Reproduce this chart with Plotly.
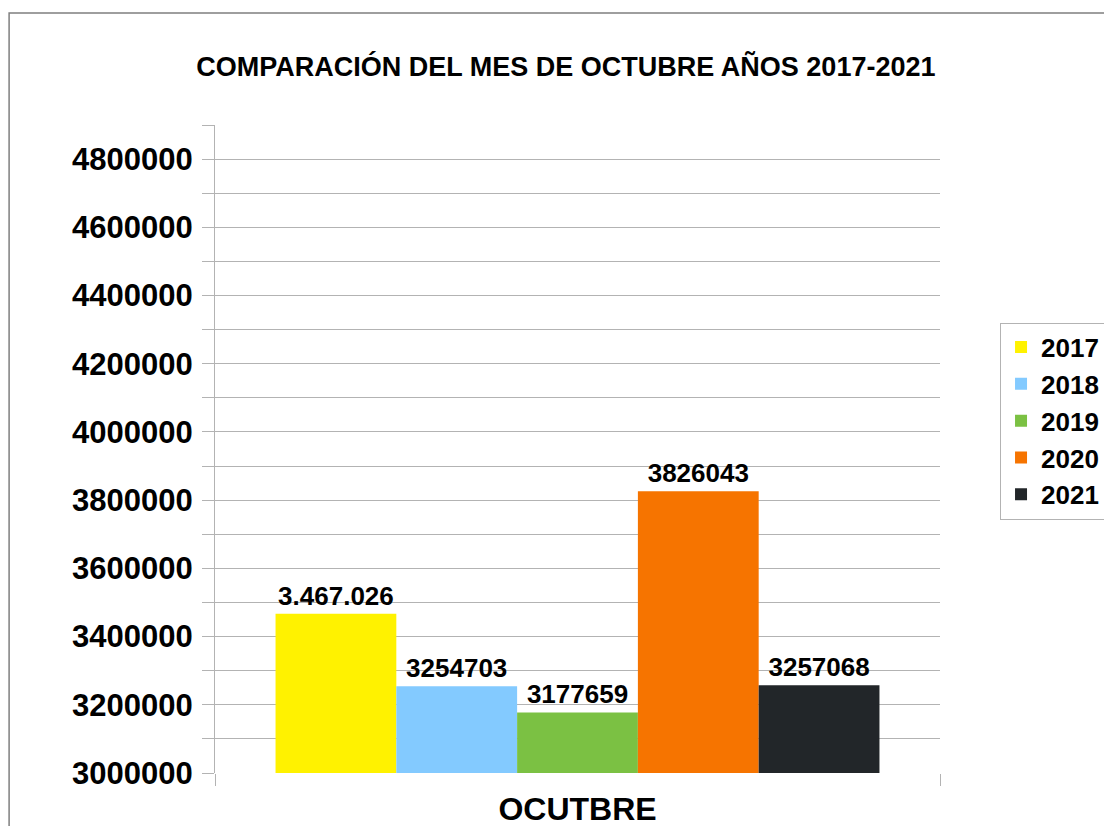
import plotly.graph_objects as go

# data
years = ["2017", "2018", "2019", "2020", "2021"]
month = ["OCUTBRE"]
values = [3467026, 3254703, 3177659, 3826043, 3257068]
value_labels = ["3.467.026", "3254703", "3177659", "3826043", "3257068"]
colors = ["#FFF200", "#83CAFF", "#7BC143", "#F67400", "#222629"]

y_ticks = list(range(3000000, 4900001, 100000))
y_ticktext = [str(v) if (v - 3000000) % 200000 == 0 and v < 4900000 else "" for v in y_ticks]

FONT = "Liberation Sans, Arial, sans-serif"
GRID = "#b3b3b3"

fig = go.Figure()
for yr, val, lab, col in zip(years, values, value_labels, colors):
    fig.add_trace(go.Bar(
        name=yr,
        x=month,
        y=[val],
        marker=dict(color=col, line=dict(width=0)),
        text=[lab],
        textposition="outside",
        textfont=dict(family=FONT, size=26, color="black", weight="bold"),
        cliponaxis=False,
    ))

# page body has an 8px margin, so the figure is sized/offset to compensate
fig.update_layout(
    width=1104,
    height=818,
    margin=dict(l=207, r=172, t=117, b=53, autoexpand=False),
    paper_bgcolor="white",
    plot_bgcolor="white",
    barmode="group",
    bargap=0.167,
    bargroupgap=0,
    font=dict(family=FONT, color="black"),
    title=dict(
        text="<b>COMPARACIÓN DEL MES DE OCTUBRE AÑOS 2017-2021</b>",
        font=dict(family=FONT, size=27, color="black"),
        x=0.484, xref="paper", xanchor="center",
        y=0.928, yref="container", yanchor="middle",
    ),
    legend=dict(
        x=1.0828, y=0.695, xanchor="left", yanchor="top",
        bgcolor="white", bordercolor=GRID, borderwidth=1,
        font=dict(family=FONT, size=26, color="black", weight="bold"),
        itemwidth=30,
    ),
    showlegend=True,
)

fig.update_yaxes(
    automargin=False,
    range=[3000000, 4900000],
    tickvals=y_ticks,
    ticktext=y_ticktext,
    ticks="outside",
    ticklen=12,
    tickcolor=GRID,
    showgrid=True,
    gridcolor=GRID,
    gridwidth=1,
    showline=True,
    linecolor=GRID,
    zeroline=False,
    tickfont=dict(family=FONT, size=31, color="black", weight="bold"),
    ticklabelstandoff=3,
)

fig.update_xaxes(
    automargin=False,
    type="category",
    tickson="boundaries",
    ticks="outside",
    ticklen=12,
    tickcolor=GRID,
    showgrid=True,
    gridcolor=GRID,
    showline=False,
    tickfont=dict(family=FONT, size=32, color="black", weight="bold"),
    ticklabelstandoff=14,
)

# outer frame of the chart object (only top and left edges fall inside the picture)
fig.add_shape(
    type="rect", xref="paper", yref="paper",
    x0=-0.284, x1=1.25, y0=-0.2, y1=1.1728,
    line=dict(color="#7f7f7f", width=1.5),
    fillcolor="rgba(0,0,0,0)",
    layer="below",
)

fig.write_html("out.html")
